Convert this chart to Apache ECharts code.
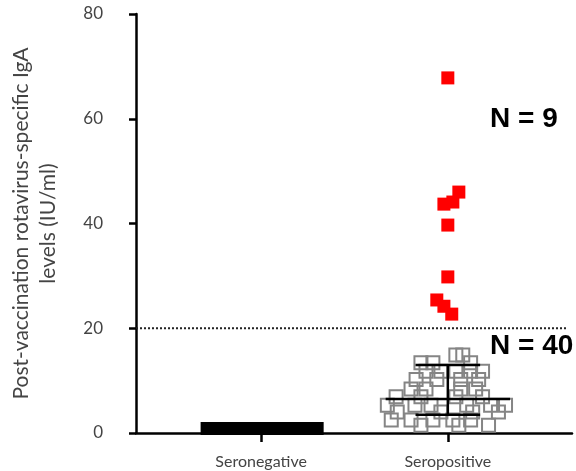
<!DOCTYPE html>
<html><head><meta charset="utf-8">
<script src="https://cdn.jsdelivr.net/npm/echarts@6/dist/echarts.min.js"></script>
<style>html,body{margin:0;padding:0;background:#fff}#c{width:576px;height:471px}</style>
</head><body><div id="c"></div>
<script>
// Categories at x = 1 (Seronegative) and x = 2 (Seropositive)
const categories = ['Seronegative', 'Seropositive'];
const yTicks = [0, 20, 40, 60, 80];
const threshold = 20;
// Seronegative: solid block of values near 0
const seronegBlock = { xFrom: 0.676, xTo: 1.335, yFrom: 0, yTo: 2.1 };
// Seropositive above threshold (N = 9)
const redPoints = [
  [2.000, 67.8], [2.059, 46.0], [2.027, 44.1], [1.979, 43.7], [2.000, 39.7],
  [2.000, 29.8], [1.941, 25.4], [1.979, 24.2], [2.021, 22.7]
];
// Seropositive below threshold (N = 40)
const grayPoints = [
  [2.043, 14.9], [2.080, 14.9],
  [1.856, 13.4], [1.920, 13.4], [2.122, 13.4],
  [1.883, 11.8], [1.963, 11.8], [2.043, 11.8], [2.122, 11.8], [2.186, 11.8],
  [1.830, 10.2], [1.941, 10.2], [2.069, 10.2], [2.165, 10.2],
  [1.803, 8.4], [1.883, 8.4], [2.069, 8.4], [2.149, 8.4],
  [1.723, 6.9], [1.856, 6.9], [2.043, 6.9], [2.186, 6.9],
  [1.676, 5.3], [1.824, 5.3], [1.910, 5.3], [2.101, 5.3], [2.229, 5.3], [2.309, 5.3],
  [1.729, 4.0], [1.963, 4.0], [2.133, 4.0], [2.271, 4.0],
  [1.697, 2.5], [1.803, 2.5], [1.920, 2.5], [2.027, 2.5], [2.122, 2.5],
  [1.856, 1.5], [2.059, 1.5], [2.218, 1.5]
];
// Summary lines for the seropositive < threshold group
const summary = { x: 2, median: 6.5, low: 3.5, high: 13, medHalf: 0.333, capHalf: 0.173 };

const chart = echarts.init(document.getElementById('c'));
const fontFam = 'Lato, "Open Sans", sans-serif';

chart.setOption({
  animation: false,
  grid: { left: 133, right: 4, top: 14, bottom: 38 },
  xAxis: {
    type: 'value', min: 0.33, max: 2.665,
    splitLine: { show: false },
    axisLine: { show: true, lineStyle: { color: '#000', width: 2.5 } },
    axisTick: { show: true, customValues: [1, 2], length: 9, lineStyle: { color: '#000', width: 2.5 } },
    axisLabel: {
      customValues: [1, 2], margin: 21,
      formatter: v => categories[Math.round(v) - 1] || '',
      color: '#444', fontSize: 16, fontFamily: fontFam
    }
  },
  yAxis: {
    type: 'value', min: 0, max: 80, interval: 20,
    splitLine: { show: false },
    axisLine: { show: true, lineStyle: { color: '#000', width: 2.5 } },
    axisTick: { show: true, length: 7, lineStyle: { color: '#000', width: 2.5 } },
    axisLabel: { margin: 33, color: '#444', fontSize: 17, fontFamily: fontFam },
    name: 'Post-vaccination rotavirus-specific IgA\nlevels (IU/ml)',
    nameLocation: 'middle', nameGap: 74,
    nameTextStyle: { color: '#444', fontSize: 21, fontFamily: fontFam, lineHeight: 27 }
  },
  series: [
    {
      type: 'custom',
      renderItem: (params, api) => {
        const p1 = api.coord([seronegBlock.xFrom, seronegBlock.yTo]);
        const p2 = api.coord([seronegBlock.xTo, seronegBlock.yFrom]);
        return { type: 'rect', shape: { x: p1[0], y: p1[1], width: p2[0] - p1[0], height: p2[1] - p1[1] + 2 }, style: { fill: '#000' } };
      },
      data: [[seronegBlock.xFrom, seronegBlock.yTo]],
      silent: true, z: 3
    },
    {
      type: 'line',
      data: [[0.33, threshold], [2.638, threshold]],
      symbol: 'none',
      lineStyle: { color: '#222', width: 2, type: [2, 2] },
      silent: true, z: 2
    },
    {
      type: 'scatter',
      data: grayPoints,
      symbol: 'rect', symbolSize: 13,
      itemStyle: { color: 'rgba(0,0,0,0)', borderColor: '#858585', borderWidth: 2, opacity: 1 },
      z: 4
    },
    {
      type: 'scatter',
      data: redPoints,
      symbol: 'rect', symbolSize: 13,
      itemStyle: { color: '#ff0000', opacity: 1 },
      z: 5
    },
    {
      type: 'custom',
      renderItem: (params, api) => {
        const s = summary;
        const line = (a, b) => ({ type: 'line', shape: { x1: a[0], y1: a[1], x2: b[0], y2: b[1] }, style: { stroke: '#000', lineWidth: 2.5 } });
        return {
          type: 'group',
          children: [
            line(api.coord([s.x - s.medHalf, s.median]), api.coord([s.x + s.medHalf, s.median])),
            line(api.coord([s.x, s.low]), api.coord([s.x, s.high])),
            line(api.coord([s.x - s.capHalf, s.low]), api.coord([s.x + s.capHalf, s.low])),
            line(api.coord([s.x - s.capHalf, s.high]), api.coord([s.x + s.capHalf, s.high]))
          ]
        };
      },
      data: [[summary.x, summary.median]],
      silent: true, z: 6
    }
  ],
  graphic: [
    { type: 'text', left: 490, top: 105, style: { text: 'N = 9', fontFamily: 'Liberation Sans', fontWeight: 'bold', fontSize: 28, fill: '#000' } },
    { type: 'text', left: 490, top: 332, style: { text: 'N = 40', fontFamily: 'Liberation Sans', fontWeight: 'bold', fontSize: 28, fill: '#000' } }
  ]
});
</script></body></html>
